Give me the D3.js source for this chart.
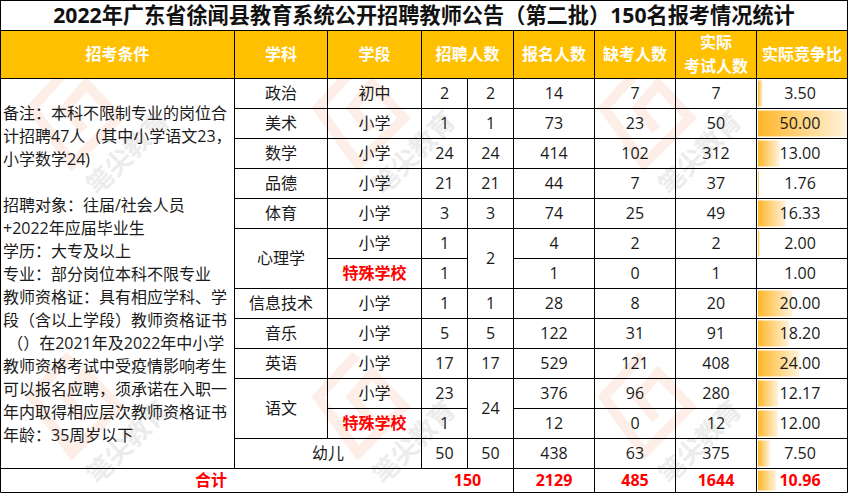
<!DOCTYPE html>
<html>
<head>
<meta charset="utf-8">
<script src="https://cdn.jsdelivr.net/npm/d3@7"></script>
<style>
  html, body { margin: 0; padding: 0; background: #fff; }
  svg { display: block; }
  text { font-family: "Open Sans", "Noto Sans CJK SC", sans-serif; font-size: 16px; fill: #1a1a1a; }
</style>
</head>
<body>
<div id="svg-area"></div>
<script>
// table content, one array per column
const title = "2022年广东省徐闻县教育系统公开招聘教师公告（第二批）150名报考情况统计"
const headers = ["招考条件", "学科", "学段", "招聘人数", "报名人数", "缺考人数", ["实际", "考试人数"], "实际竞争比"]
const notes = [
  "备注：本科不限制专业的岗位合", "计招聘47人（其中小学语文23，", "小学数学24)", "",
  "招聘对象：往届/社会人员", "+2022年应届毕业生", "学历：大专及以上", "专业：部分岗位本科不限专业",
  "教师资格证：具有相应学科、学", "段（含以上学段）教师资格证书", " （）在2021年及2022年中小学",
  "教师资格考试中受疫情影响考生", "可以报名应聘，须承诺在入职一", "年内取得相应层次教师资格证书", "年龄：35周岁以下"
]
const subjects = ["政治", "美术", "数学", "品德", "体育", "心理学", "心理学", "信息技术", "音乐", "英语", "语文", "语文", "幼儿"]
const stages = ["初中", "小学", "小学", "小学", "小学", "小学", "特殊学校", "小学", "小学", "小学", "小学", "特殊学校", null]
const posts = [2, 1, 24, 21, 3, 1, 1, 1, 5, 17, 23, 1, 50]
const postTotals = [2, 1, 24, 21, 3, 2, null, 1, 5, 17, 24, null, 50]
const applied = [14, 73, 414, 44, 74, 4, 1, 28, 122, 529, 376, 12, 438]
const absent = [7, 23, 102, 7, 25, 2, 0, 8, 31, 121, 96, 0, 63]
const sat = [7, 50, 312, 37, 49, 2, 1, 20, 91, 408, 280, 12, 375]
const ratio = ["3.50", "50.00", "13.00", "1.76", "16.33", "2.00", "1.00", "20.00", "18.20", "24.00", "12.17", "12.00", "7.50"]
const totals = { label: "合计", posts: 150, applied: 2129, absent: 485, sat: 1644, ratio: "10.96" }

const svgWidth = 848
const svgHeight = 494

// column edges
const X = { note: 0.5, subject: 234.5, stage: 327.5, post: 421.5, postTotal: 467.5, applied: 513.5, absent: 594.5, sat: 675.5, ratio: 756.5, end: 847.5 }
const titleBottom = 30.5
const headBottom = 78.5
const tableBottom = 492.5

const rowIdx = d3.range(subjects.length)
const y = d3.scaleBand().domain(rowIdx).range([headBottom, headBottom + 30 * subjects.length])
const totalTop = y.range()[1]

// excel style data bar: shortest value gets no bar, longest fills the cell
const ratioValues = ratio.map(Number)
const barX = d3.scaleLinear().domain(d3.extent(ratioValues)).range([0, X.end - X.ratio - 2.5])

let svg = d3.select("#svg-area").append("svg")
  .attr("width", svgWidth)
  .attr("height", svgHeight)

let defs = svg.append("defs")
let grad = defs.append("linearGradient").attr("id", "barFill")
grad.append("stop").attr("offset", "0%").attr("stop-color", "#ffb628")
grad.append("stop").attr("offset", "100%").attr("stop-color", "#fff3dc")

svg.append("rect").attr("width", svgWidth).attr("height", svgHeight).attr("fill", "#fff")

// faint watermark behind the table
const stampCols = [128, 414, 700]
const stampRows = [153, 442]
let stamps = svg.append("g")
stampRows.forEach(sy => stampCols.forEach(sx => {
  let g = stamps.append("g").attr("transform", `translate(${sx}, ${sy})`)
  g.append("path")
    .attr("transform", "translate(-52, -37)")
    .attr("d", "M-6,-50 L-44,-8 L-4,48 L42,2 L10,-32 L-10,-8 L8,14")
    .attr("fill", "none")
    .attr("stroke", "#fdeee8")
    .attr("stroke-width", 10)
  g.append("text")
    .attr("transform", "rotate(-45)")
    .attr("text-anchor", "middle")
    .attr("dy", "0.35em")
    .style("font-size", "26px")
    .style("font-weight", 700)
    .style("fill", "#ececec")
    .text("笔尖教育")
}))

// header band
svg.append("rect")
  .attr("x", X.note).attr("y", titleBottom)
  .attr("width", X.end - X.note).attr("height", headBottom - titleBottom)
  .attr("fill", "#ffc000")

// data bars
svg.append("g").selectAll("rect")
  .data(rowIdx)
  .enter()
  .append("rect")
  .attr("x", X.ratio + 1.5)
  .attr("y", i => y(i) + 2)
  .attr("width", i => barX(ratioValues[i]))
  .attr("height", y.bandwidth() - 4)
  .attr("fill", "url(#barFill)")

svg.append("rect")
  .attr("x", X.ratio + 1.5)
  .attr("y", totalTop + 2)
  .attr("width", barX(+totals.ratio))
  .attr("height", tableBottom - totalTop - 4)
  .attr("fill", "url(#barFill)")

// grid lines
let grid = svg.append("g").attr("stroke", "#000").attr("stroke-width", 1)
function hLine(x1, x2, yy) {
  grid.append("line").attr("x1", x1).attr("x2", x2).attr("y1", yy).attr("y2", yy)
}
function vLine(xx, y1, y2) {
  grid.append("line").attr("x1", xx).attr("x2", xx).attr("y1", y1).attr("y2", y2)
}

hLine(X.note, X.end, 0.5)
hLine(X.note, X.end, titleBottom)
hLine(X.note, X.end, headBottom)
hLine(X.note, X.end, totalTop)
hLine(X.note, X.end, tableBottom)
vLine(X.note, 0, tableBottom)
vLine(X.end, 0, tableBottom)
vLine(X.subject, titleBottom, totalTop)
vLine(X.stage, titleBottom, totalTop - 30)
vLine(X.post, titleBottom, totalTop)
vLine(X.postTotal, headBottom, totalTop)
;[X.applied, X.absent, X.sat, X.ratio].forEach(xx => vLine(xx, titleBottom, tableBottom))

// row lines, skipped inside merged cells
rowIdx.slice(1).forEach(i => {
  let top = y(i)
  if (subjects[i] !== subjects[i - 1]) hLine(X.subject, X.stage, top)
  hLine(X.stage, X.postTotal, top)
  if (postTotals[i] !== null) hLine(X.postTotal, X.applied, top)
  hLine(X.applied, X.end, top)
})

// cell text helper
function cell(x1, x2, y1, y2, txt, color, bold) {
  let t = svg.append("text")
    .attr("x", (x1 + x2) / 2)
    .attr("y", (y1 + y2) / 2)
    .attr("dy", "0.35em")
    .attr("text-anchor", "middle")
    .text(txt)
  if (color) t.style("fill", color)
  if (bold) t.style("font-weight", 700)
  return t
}

// title
cell(X.note, X.end, 0, titleBottom, title, "#111", true).style("font-size", "21.2px")

// headers
const headEdges = [X.note, X.subject, X.stage, X.post, X.applied, X.absent, X.sat, X.ratio, X.end]
headers.forEach((h, i) => {
  if (Array.isArray(h)) {
    cell(headEdges[i], headEdges[i + 1], titleBottom, titleBottom + 24, h[0], "#fff", true)
    cell(headEdges[i], headEdges[i + 1], titleBottom + 24, headBottom, h[1], "#fff", true)
  } else {
    cell(headEdges[i], headEdges[i + 1], titleBottom, headBottom, h, "#fff", true)
  }
})

// notes column
const noteY = d3.scaleLinear().domain([0, notes.length - 1]).range([113, 435])
svg.append("g").selectAll("text")
  .data(notes)
  .enter()
  .append("text")
  .attr("x", 3)
  .attr("y", (d, i) => noteY(i))
  .attr("dy", "0.35em")
  .attr("xml:space", "preserve")
  .text(d => d)

// ratio text sits a little left of the cell middle
const ratioMid = X.end - 4

// body rows
rowIdx.forEach(i => {
  let top = y(i), bot = top + y.bandwidth()

  if (stages[i] === null) {
    cell(X.subject, X.post, top, bot, subjects[i])
  } else {
    if (i === 0 || subjects[i] !== subjects[i - 1]) {
      let span = subjects[i + 1] === subjects[i] ? 2 : 1
      cell(X.subject, X.stage, top, top + span * y.bandwidth(), subjects[i])
    }
    let special = stages[i] === "特殊学校"
    cell(X.stage, X.post, top, bot, stages[i], special ? "#ff0000" : null, special)
  }

  cell(X.post, X.postTotal, top, bot, posts[i])
  if (postTotals[i] !== null) {
    let span = postTotals[i + 1] === null ? 2 : 1
    cell(X.postTotal, X.applied, top, top + span * y.bandwidth(), postTotals[i])
  }
  cell(X.applied, X.absent, top, bot, applied[i])
  cell(X.absent, X.sat, top, bot, absent[i])
  cell(X.sat, X.ratio, top, bot, sat[i])
  cell(X.ratio, ratioMid, top, bot, ratio[i])
})

// totals row
const red = "#ff0000"
cell(X.note, X.post, totalTop, tableBottom, totals.label, red, true)
cell(X.post, X.applied, totalTop, tableBottom, totals.posts, red, true)
cell(X.applied, X.absent, totalTop, tableBottom, totals.applied, red, true)
cell(X.absent, X.sat, totalTop, tableBottom, totals.absent, red, true)
cell(X.sat, X.ratio, totalTop, tableBottom, totals.sat, red, true)
cell(X.ratio, ratioMid, totalTop, tableBottom, totals.ratio, red, true)
</script>
</body>
</html>
